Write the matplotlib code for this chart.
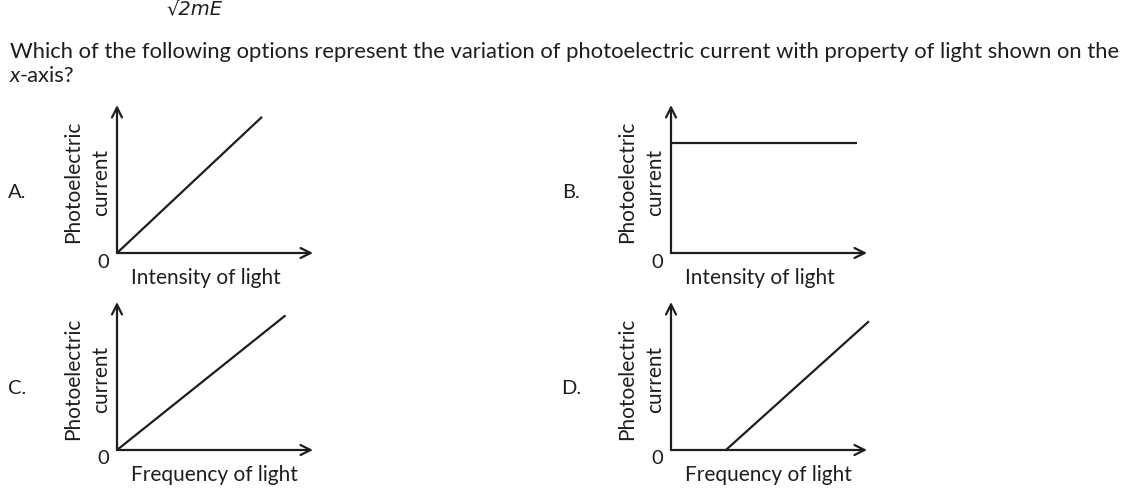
import matplotlib
matplotlib.use("Agg")
import matplotlib.pyplot as plt

plt.rcParams['font.family'] = ['Lato', 'DejaVu Sans']

W, H = 1142, 492
INK = '#1e1e1e'

# option letters and axis titles
options = ['A.', 'B.', 'C.', 'D.']
x_titles = ['Intensity of light', 'Intensity of light',
            'Frequency of light', 'Frequency of light']
y_title = ['Photoelectric', 'current']

# curve in each small graph (fraction of the axis length)
curve_x = [[0.0, 0.74], [0.0, 0.95], [0.0, 0.86], [0.28, 1.01]]
curve_y = [[0.0, 0.92], [0.74, 0.74], [0.0, 0.91], [0.0, 0.87]]

question = ("Which of the following options represent the variation of photoelectric current "
            "with property of light shown on the")

# origin of each graph in pixels, arrow length in pixels, x-title centre offset
origins = [(117, 253), (671, 253), (117, 450), (671, 450)]
title_dx = [89, 89, 97, 97]
AX_W, AX_H = 196, 148

fig = plt.figure(figsize=(W / 100, H / 100), dpi=100)


def px(x, y):
    return x / W, 1 - y / H


fig.text(*px(194, 9), '\u221a2mE', ha='center', va='center', fontsize=14, color=INK,
         style='italic', family=['DejaVu Sans'])
fig.text(*px(10, 52), question, ha='left', va='center', fontsize=15.8, color=INK)
fig.text(*px(10, 76), 'x', ha='left', va='center', fontsize=15.8, color=INK, style='italic')
fig.text(*px(20, 76), '-axis?', ha='left', va='center', fontsize=15.8, color=INK)

for i, (ox, oy) in enumerate(origins):
    left, bottom = px(ox, oy)
    ax = fig.add_axes([left, bottom, AX_W / W, AX_H / H])
    ax.set_xlim(0, 1)
    ax.set_ylim(0, 1)
    ax.axis('off')
    arrow = dict(arrowstyle='->', lw=1.6, color=INK, mutation_scale=18, shrinkA=0, shrinkB=0)
    ax.annotate('', xy=(1.0, 0), xytext=(0, 0), arrowprops=arrow, annotation_clip=False)
    ax.annotate('', xy=(0, 1.0), xytext=(0, 0), arrowprops=arrow, annotation_clip=False)
    ax.plot(curve_x[i], curve_y[i], color=INK, lw=1.6, clip_on=False, solid_capstyle='butt')

    fig.text(*px(ox - 100, oy - 61), options[i], ha='center', va='center', fontsize=14.5,
             color=INK)
    fig.text(*px(ox - 44, oy - 71), y_title[0], ha='center', va='center', fontsize=15,
             color=INK, rotation=90)
    fig.text(*px(ox - 16, oy - 71), y_title[1], ha='center', va='center', fontsize=15,
             color=INK, rotation=90)
    fig.text(*px(ox - 14, oy + 9), '0', ha='center', va='center', fontsize=14.5, color=INK)
    fig.text(*px(ox + title_dx[i], oy + 25), x_titles[i], ha='center', va='center',
             fontsize=15, color=INK)

fig.savefig('out.png', dpi=100, facecolor='white')
